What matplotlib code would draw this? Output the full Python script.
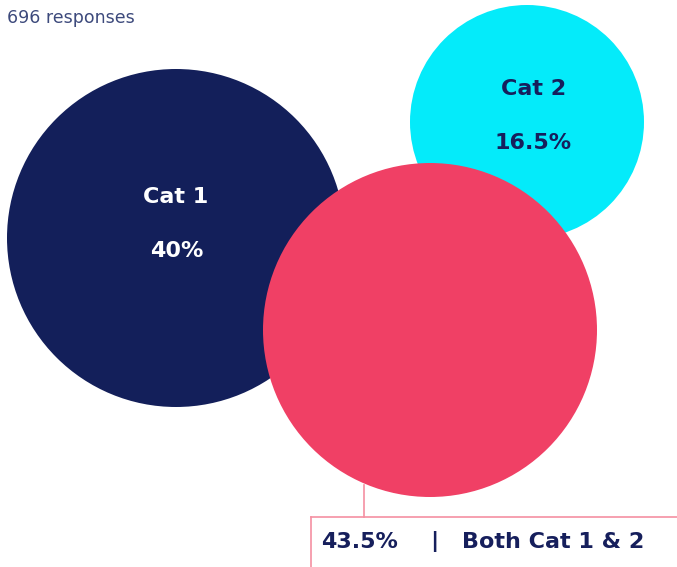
import matplotlib.pyplot as plt
from matplotlib.patches import Circle

# response shares
categories = ["Cat 1", "Cat 2", "Both Cat 1 & 2"]
shares = [40, 16.5, 43.5]
total_responses = 696

# bubble layout in pixel space (x, y from top-left, radius)
centers = [(176, 238), (527, 122), (430, 330)]
radii = [169, 117, 167]
colors = ["#131f5a", "#04ebfa", "#f04065"]
navy = "#161f5c"
line_pink = "#f590a2"

plt.rcParams['font.family'] = ['DejaVu Sans']

fig = plt.figure(figsize=(6.77, 5.67), dpi=100)
ax = fig.add_axes([0, 0, 1, 1])
ax.set_xlim(0, 677)
ax.set_ylim(567, 0)
ax.set_aspect('equal')
ax.axis('off')

# cyan first, then navy, pink on top
for i in [1, 0, 2]:
    ax.add_patch(Circle(centers[i], radii[i], color=colors[i], lw=0, zorder=i + 1))

def fmt(v):
    return f"{v:g}%"

lbl = dict(fontsize=16, fontweight="bold", va="center", zorder=5)

# labels inside the two single-category bubbles
ax.text(176, 197, categories[0], color="white", ha="center", **lbl)
ax.text(177, 251, fmt(shares[0]), color="white", ha="center", **lbl)
ax.text(534, 89, categories[1], color=navy, ha="center", **lbl)
ax.text(533, 143, fmt(shares[1]), color=navy, ha="center", **lbl)

# callout for the overlap bubble
ax.plot([364, 364], [485, 517], color=line_pink, lw=1.2, zorder=0)
ax.plot([311, 677], [517, 517], color=line_pink, lw=1.2, zorder=0)
ax.plot([311, 311], [517, 567], color=line_pink, lw=1.2, zorder=0)
ax.text(321, 542, fmt(shares[2]), color=navy, ha="left", **lbl)
ax.text(434, 542, "|", color=navy, ha="center", **lbl)
ax.text(462, 542, categories[2], color=navy, ha="left", **lbl)

ax.text(7, 18, f"{total_responses} responses", color="#3d4a7c", fontsize=12.5,
        ha="left", va="center")

fig.savefig("out.png", dpi=100)
